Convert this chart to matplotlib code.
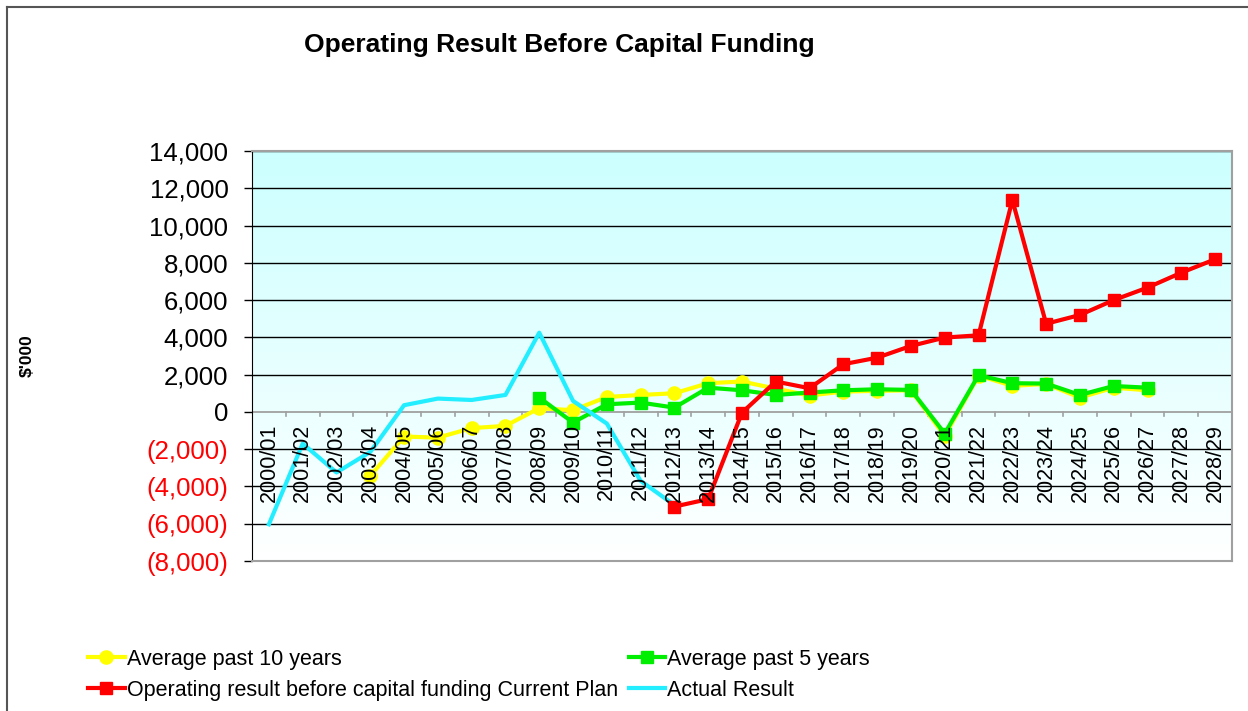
import numpy as np
import matplotlib.pyplot as plt
from matplotlib.lines import Line2D

plt.rcParams['font.family'] = ['Liberation Sans', 'DejaVu Sans']

years = ["2000/01", "2001/02", "2002/03", "2003/04", "2004/05", "2005/06", "2006/07",
         "2007/08", "2008/09", "2009/10", "2010/11", "2011/12", "2012/13", "2013/14",
         "2014/15", "2015/16", "2016/17", "2017/18", "2018/19", "2019/20", "2020/21",
         "2021/22", "2022/23", "2023/24", "2024/25", "2025/26", "2026/27", "2027/28",
         "2028/29"]

nan = np.nan
# $'000
avg10 = [nan, nan, nan, -3430, -1320, -1380, -870, -750, 200, 90, 800, 910, 1000, 1540,
         1630, 1250, 880, 1090, 1130, 1160, -1290, 1950, 1400, 1500, 770, 1300, 1160, nan, nan]
avg5 = [nan, nan, nan, nan, nan, nan, nan, nan, 770, -570, 410, 500, 230, 1300,
        1160, 910, 1040, 1160, 1215, 1180, -1160, 1970, 1540, 1520, 910, 1390, 1300, nan, nan]
plan = [nan, nan, nan, nan, nan, nan, nan, nan, nan, nan, nan, nan, -5080, -4680,
        -40, 1630, 1270, 2560, 2910, 3540, 3990, 4110, 11370, 4730, 5200, 6000, 6670, 7470, 8190]
actual = [-6030, -1700, -3250, -2150, 360, 715, 640, 910, 4250, 590, -625, -3700, -5000,
          nan, nan, nan, nan, nan, nan, nan, nan, nan, nan, nan, nan, nan, nan, nan, nan]

yticks = list(range(-8000, 14001, 2000))

fig = plt.figure(figsize=[12.48, 7.11], dpi=100)
ax = fig.add_axes([252 / 1248, 1 - 561 / 711, 980 / 1248, 410 / 711])

x = np.arange(len(years))
ax.set_xlim(-0.5, len(years) - 0.5)
ax.set_ylim(-8000, 14000)

# background gradient: light cyan top -> white bottom
grad = np.linspace(1, 0, 256)
top = np.array([0.80, 1.0, 1.0])
bot = np.array([1.0, 1.0, 1.0])
img = (bot + (top - bot) * grad[:, None])[:, None, :]
ax.imshow(img, extent=[-0.5, len(years) - 0.5, -8000, 14000], aspect='auto', zorder=0)

for v in yticks:
    if v == 0:
        continue
    ax.axhline(v, color='black', lw=1.0, zorder=1)
ax.axhline(0, color='#a0a0a0', lw=1.3, zorder=1)
for b in np.arange(0.5, len(years) - 0.5, 1):
    ax.plot([b, b], [0, -220], color='#a0a0a0', lw=1.2, zorder=1)

lw = 3
ax.plot(x, avg10, color='#FFFF00', lw=lw, marker='o', ms=9.5, zorder=3)
ax.plot(x, avg5, color='#00EE00', lw=lw, marker='s', ms=8.5, zorder=4)
ax.plot(x, actual, color='#22EEFF', lw=lw, zorder=5)
ax.plot(x, plan, color='#FF0000', lw=lw, marker='s', ms=8.5, zorder=6)

for i, lab in enumerate(years):
    ax.text(i, -650, lab, rotation=90, ha='center', va='top', fontsize=15.5, zorder=8)

ax.set_xticks([])
ax.set_yticks(yticks)
labels = []
for v in yticks:
    if v < 0:
        labels.append("({:,})".format(-v))
    else:
        labels.append("{:,}".format(v))
ax.set_yticklabels(labels, fontsize=18.5)
for t, v in zip(ax.get_yticklabels(), yticks):
    if v < 0:
        t.set_color('red')
ax.tick_params(axis='y', length=6, width=1, direction='out', pad=11)

for s in ['top', 'right', 'bottom']:
    ax.spines[s].set_color('#a0a0a0')
    ax.spines[s].set_linewidth(1.5)
ax.spines['left'].set_color('black')

fig.text(27 / 1248, 1 - 356 / 711, "$'000", rotation=90, fontsize=12.5, fontweight='bold',
         ha='center', va='center')
fig.text(559 / 1248, 1 - 45 / 711, "Operating Result Before Capital Funding", fontsize=19,
         fontweight='bold', ha='center', va='center')

# figure border (left and top)
fig.add_artist(Line2D([7 / 1248, 7 / 1248], [0, 1 - 7 / 711], color='#555555', lw=1.5))
fig.add_artist(Line2D([7 / 1248, 1], [1 - 7 / 711, 1 - 7 / 711], color='#555555', lw=1.5))

handles = [
    Line2D([], [], color='#FFFF00', lw=lw, marker='o', ms=9.5),
    Line2D([], [], color='#FF0000', lw=lw, marker='s', ms=8.5),
    Line2D([], [], color='#00EE00', lw=lw, marker='s', ms=8.5),
    Line2D([], [], color='#22EEFF', lw=lw),
]
names = ["Average past 10 years", "Operating result before capital funding Current Plan",
         "Average past 5 years", "Actual Result"]
fig.legend(handles, names, ncol=2, loc='upper left', bbox_to_anchor=(88 / 1248, 1 - 649 / 711),
           frameon=False, fontsize=15.5, handlelength=1.7, handletextpad=0.1,
           columnspacing=0.5, labelspacing=0.45, borderaxespad=0, borderpad=0)

fig.savefig("out.png", dpi=100)
